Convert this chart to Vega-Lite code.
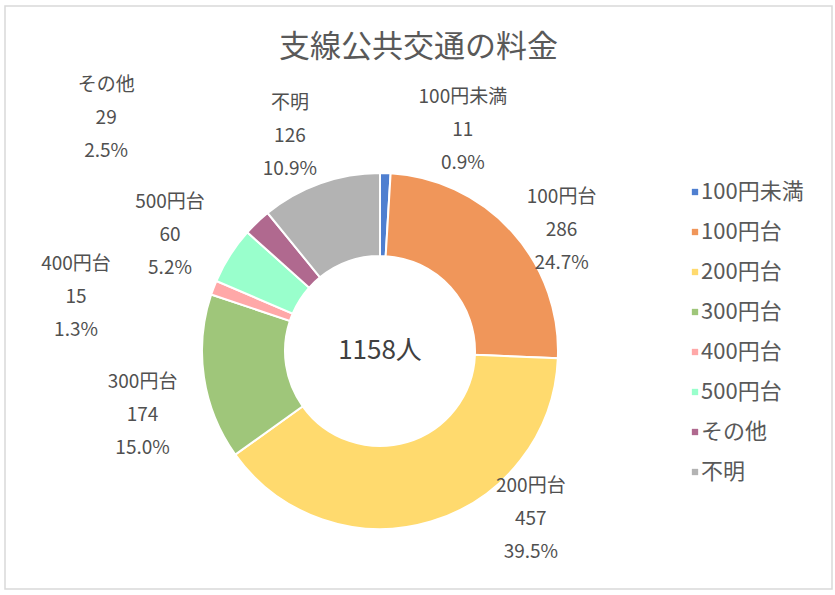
{
  "$schema": "https://vega.github.io/schema/vega-lite/v6.json",
  "width": 835,
  "height": 595,
  "autosize": {"type": "fit", "contains": "padding"},
  "padding": {"left": 4, "top": 5, "right": 2, "bottom": 5},
  "background": "white",
  "config": {
    "view": {"stroke": null},
    "font": "Noto Sans CJK JP"
  },
  "title": {
    "text": "支線公共交通の料金",
    "font": "Noto Sans CJK JP",
    "fontSize": 31,
    "fontWeight": "normal",
    "color": "#595959",
    "anchor": "middle",
    "frame": "group",
    "offset": -59
  },
  "data": {
    "values": [
      {"c": "100円未満", "n": 11, "pct": "0.9%", "i": 1},
      {"c": "100円台", "n": 286, "pct": "24.7%", "i": 2},
      {"c": "200円台", "n": 457, "pct": "39.5%", "i": 3},
      {"c": "300円台", "n": 174, "pct": "15.0%", "i": 4},
      {"c": "400円台", "n": 15, "pct": "1.3%", "i": 5},
      {"c": "500円台", "n": 60, "pct": "5.2%", "i": 6},
      {"c": "その他", "n": 29, "pct": "2.5%", "i": 7},
      {"c": "不明", "n": 126, "pct": "10.9%", "i": 8}
    ]
  },
  "layer": [
    {
      "data": {"values": [{"frame": 1}]},
      "mark": {"type": "rect", "fill": null, "fillOpacity": 0, "stroke": "#d9d9d9", "strokeWidth": 1.5},
      "encoding": {}
    },
    {
      "mark": {
        "type": "arc",
        "outerRadius": 178,
        "innerRadius": 95,
        "stroke": "white",
        "strokeWidth": 2,
        "xOffset": -38.5,
        "yOffset": 53.5
      },
      "encoding": {
        "theta": {"field": "n", "type": "quantitative", "stack": true},
        "order": {"field": "i", "type": "quantitative"},
        "color": {
          "field": "c",
          "type": "nominal",
          "sort": null,
          "scale": {
            "domain": ["100円未満", "100円台", "200円台", "300円台", "400円台", "500円台", "その他", "不明"],
            "range": ["#4F7FD0", "#F0965A", "#FFDA6E", "#9FC67A", "#FFA8A8", "#99FFCC", "#B0698F", "#B3B3B3"]
          },
          "legend": {
            "orient": "none",
            "legendX": 679,
            "legendY": 175,
            "title": null,
            "symbolType": "square",
            "symbolSize": 40,
            "symbolStrokeWidth": 0,
            "labelFont": "Noto Sans CJK JP",
            "labelFontSize": 22,
            "labelColor": "#595959",
            "labelOffset": -5,
            "rowPadding": 18
          }
        }
      }
    },
    {
      "transform": [
        {"calculate": "datum.c + '\\n' + datum.n + '\\n' + datum.pct", "as": "label"}
      ],
      "mark": {
        "type": "text",
        "radius": 230,
        "fontSize": 19,
        "color": "#505050",
        "lineBreak": "\n",
        "lineHeight": 33,
        "align": "center",
        "baseline": "middle",
        "xOffset": -38.5,
        "yOffset": 53.5,
        "dx": {"expr": "datum.c === '100円未満' ? 76 : datum.c === '100円台' ? 11 : datum.c === '200円台' ? 85 : datum.c === '300円台' ? -10 : datum.c === '400円台' ? -89 : datum.c === '500円台' ? -16 : datum.c === 'その他' ? -115 : -13"},
        "dy": {"expr": "datum.c === '100円未満' ? -24 : datum.c === '100円台' ? 0 : datum.c === '200円台' ? -85 : datum.c === '300円台' ? -3 : datum.c === '400円台' ? -5 : datum.c === '500円台' ? -25 : datum.c === 'その他' ? -100 : -31"}
      },
      "encoding": {
        "theta": {"field": "n", "type": "quantitative", "stack": true},
        "order": {"field": "i", "type": "quantitative"},
        "text": {"field": "label", "type": "nominal"}
      }
    },
    {
      "data": {"values": [{"t": "1158人"}]},
      "mark": {
        "type": "text",
        "fontSize": 26,
        "color": "#404040",
        "align": "center",
        "baseline": "middle",
        "xOffset": -38.5,
        "yOffset": 53.5
      },
      "encoding": {
        "text": {"field": "t", "type": "nominal"}
      }
    }
  ]
}
